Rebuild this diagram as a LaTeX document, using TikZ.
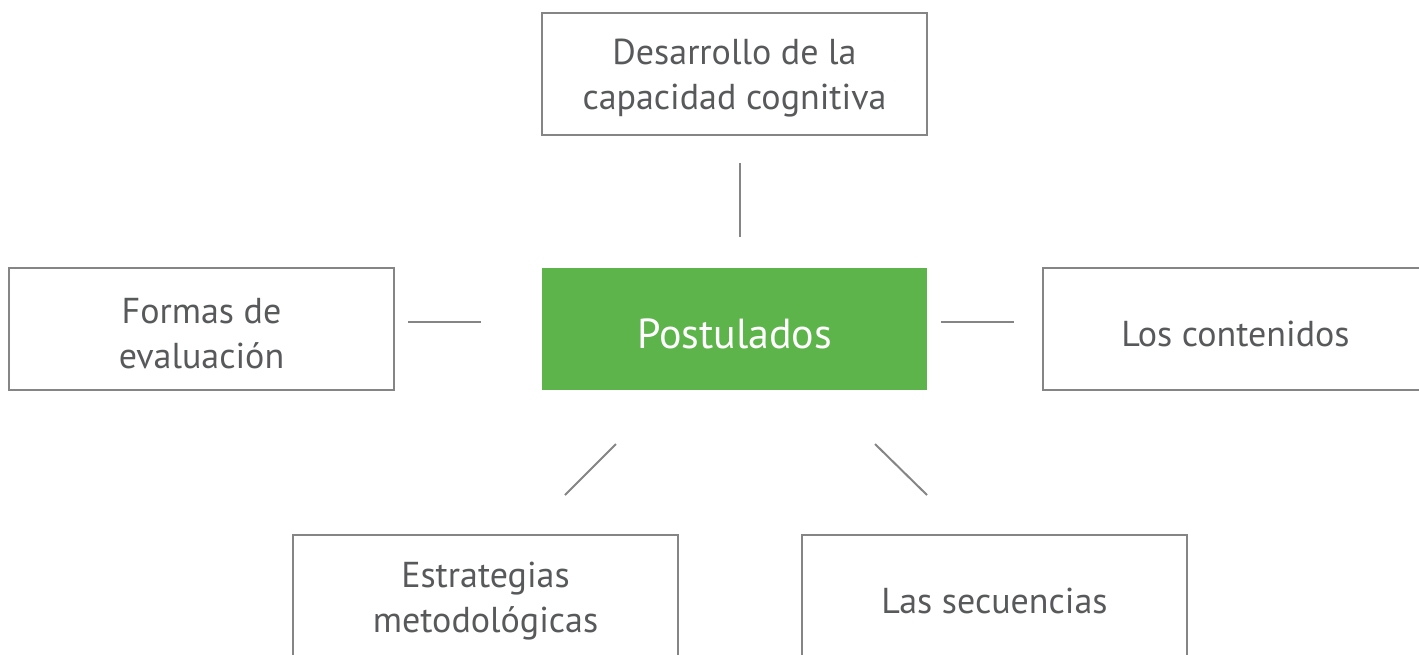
\documentclass[tikz,border=0pt]{standalone}
\usepackage{fontspec}
\setmainfont{PT Sans}
\definecolor{boxgray}{HTML}{858585}
\definecolor{txtgray}{HTML}{58595B}
\definecolor{postgreen}{HTML}{5DB44A}
\begin{document}
\begin{tikzpicture}[x=1pt,y=-1pt,
  box/.style={draw=boxgray,line width=2pt,fill=white,minimum width=385pt,minimum height=122pt,inner sep=0pt},
  lbl/.style={align=center,text=txtgray,font=\fontsize{36}{45}\selectfont,yshift=-5pt},
  mainbox/.style={fill=postgreen,minimum width=385pt,minimum height=122pt,inner sep=0pt},
  mainlbl/.style={text=white,font=\fontsize{42}{45}\selectfont,yshift=-5pt},
  link/.style={draw=boxgray,line width=2pt}]
\useasboundingbox (0,0) rectangle (1419,654);
\clip (0,0) rectangle (1419,654);
\node[box,label={[lbl]center:{Desarrollo de la\\capacidad cognitiva}}] (top) at (734.5,73.5) {};
\node[mainbox,label={[mainlbl]center:Postulados}] (main) at (734.5,329) {};
\node[box,label={[lbl]center:{Formas de\\evaluación}}] (left) at (201.5,329) {};
\node[box,label={[lbl]center:Los contenidos}] (right) at (1235.5,329) {};
\node[box,label={[lbl]center:{Estrategias\\metodológicas}}] (bl) at (485.5,596) {};
\node[box,label={[lbl]center:Las secuencias}] (br) at (994.5,596) {};
\coordinate (t1) at (740,163); \coordinate (t2) at (740,237);
\coordinate (l1) at (408,322); \coordinate (l2) at (481,322);
\coordinate (r1) at (941,322); \coordinate (r2) at (1014,322);
\coordinate (d1) at (616,444); \coordinate (d2) at (565,495);
\coordinate (e1) at (875,444); \coordinate (e2) at (927,495);
\draw[link] (t1) -- (t2);
\draw[link] (l1) -- (l2);
\draw[link] (r1) -- (r2);
\draw[link] (d1) -- (d2);
\draw[link] (e1) -- (e2);
\end{tikzpicture}
\end{document}
